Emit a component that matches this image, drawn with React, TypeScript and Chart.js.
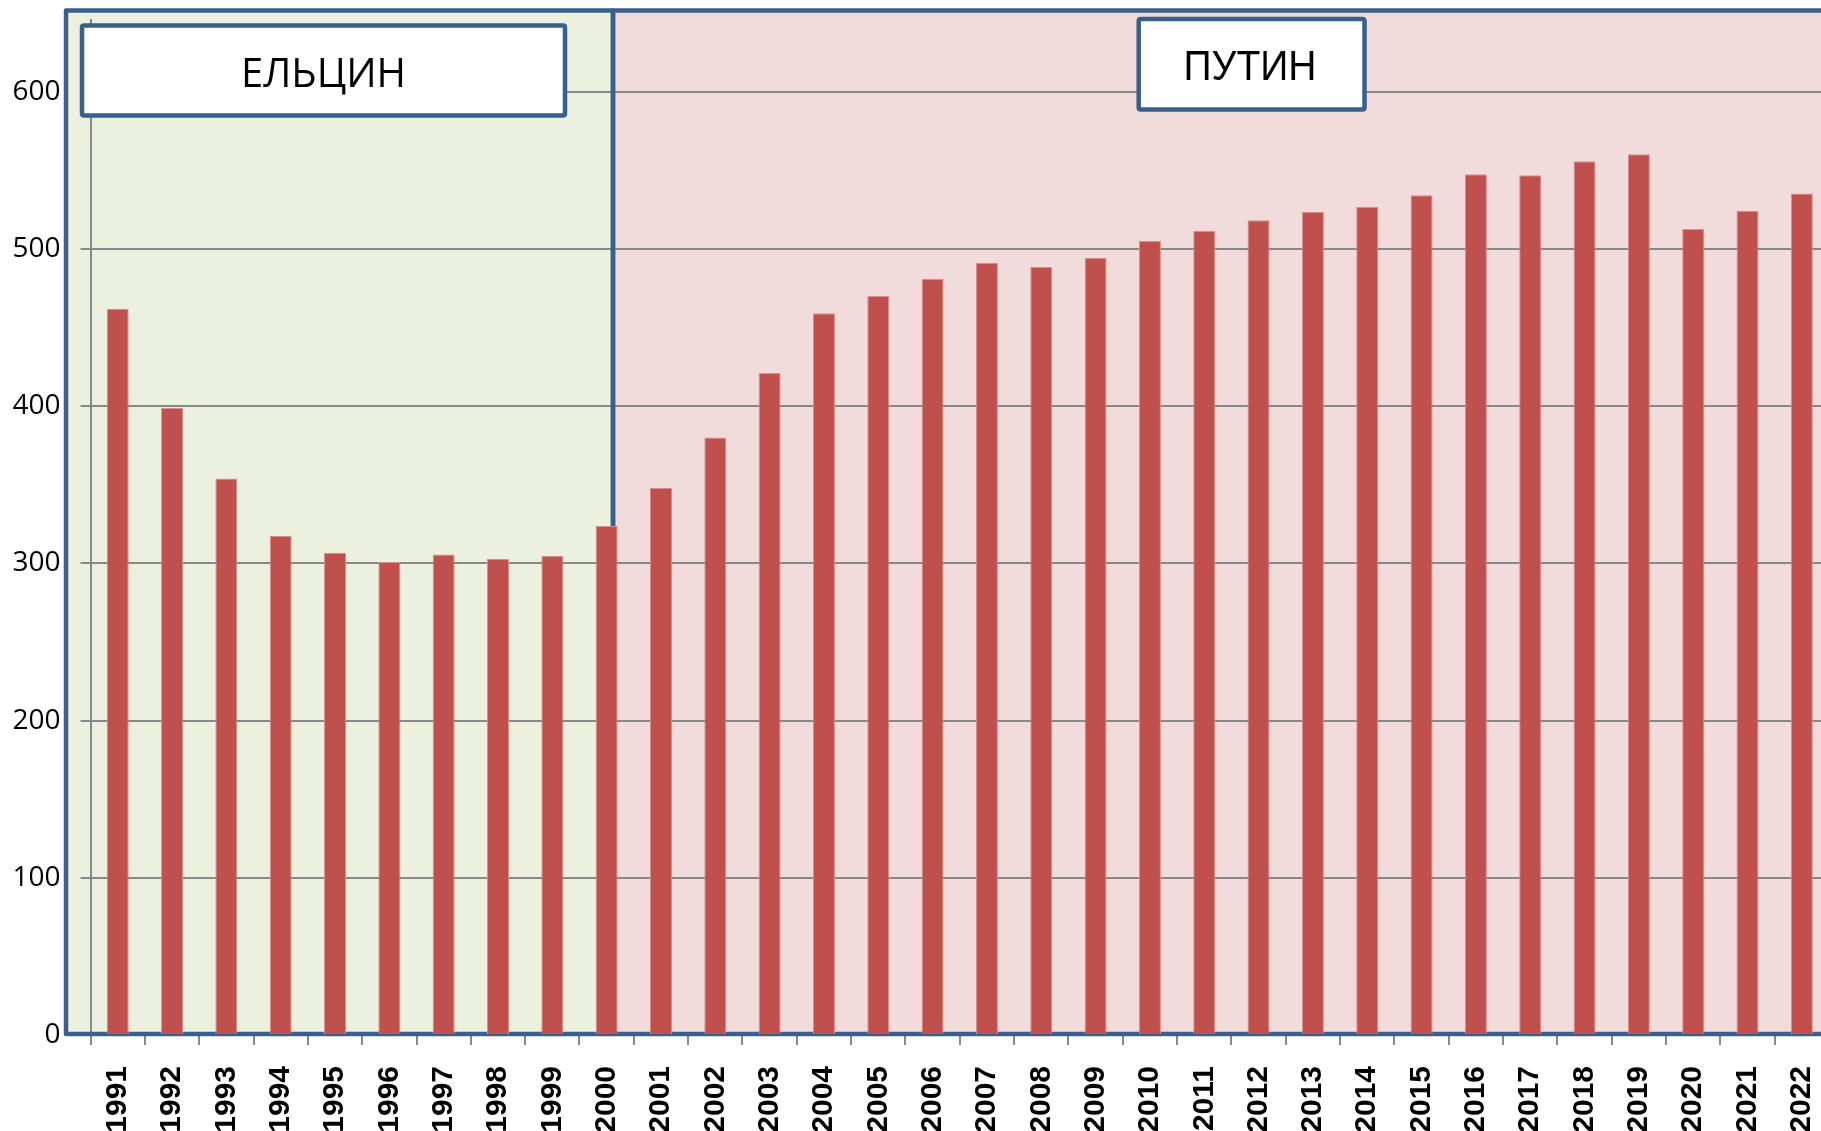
import React, { useEffect, useRef } from "react";
import { Chart, registerables } from "chart.js";

Chart.register(...registerables);

// ---- data ----
const years = [
  "1991", "1992", "1993", "1994", "1995", "1996", "1997", "1998", "1999", "2000",
  "2001", "2002", "2003", "2004", "2005", "2006", "2007", "2008", "2009", "2010",
  "2011", "2012", "2013", "2014", "2015", "2016", "2017", "2018", "2019", "2020",
  "2021", "2022",
];
const values = [
  462, 399, 354, 317.6, 306.8, 300.8, 305.7, 302.7, 304.9, 323.7,
  348, 380, 421, 459, 470, 481, 491, 488.5, 494.4, 505.1,
  511.5, 518.3, 523.5, 526.8, 534.2, 547.5, 546.9, 555.8, 560.2, 512.7,
  524.2, 535.2,
];
const yTicks = [0, 100, 200, 300, 400, 500, 600];
const eraLabels = ["ЕЛЬЦИН", "ПУТИН"];

// ---- layout / style (not data) ----
const W = 1829;
const H = 1131;
const BLUE = "#3A5F8C";
const GREEN = "#EBF1DE";
const PINK = "#F2DCDB";
const BAR = "#C0504D";
const GRID = "#888888";
const FRAME = { left: 66, top: 10.5, divider: 613, bottom: 1034, lw: 4.5 };

function zeroPadding(scale: any) {
  scale.paddingTop = 0;
  scale.paddingBottom = 0;
  scale.paddingLeft = 0;
  scale.paddingRight = 0;
}

function hasFont(name: string): boolean {
  const c = document.createElement("canvas").getContext("2d");
  if (!c) return false;
  c.font = "bold 100px monospace";
  const a = c.measureText("1991 ПУТИН").width;
  c.font = `bold 100px "${name}", monospace`;
  const b = c.measureText("1991 ПУТИН").width;
  return Math.abs(a - b) > 1;
}

const eraPlugin = {
  id: "eras",
  beforeDraw(chart: any) {
    const ctx = chart.ctx;
    ctx.save();
    ctx.fillStyle = GREEN;
    ctx.fillRect(FRAME.left, FRAME.top, FRAME.divider - FRAME.left, FRAME.bottom - FRAME.top);
    ctx.fillStyle = PINK;
    ctx.fillRect(FRAME.divider, FRAME.top, W + 20 - FRAME.divider, FRAME.bottom - FRAME.top);
    ctx.restore();
  },
  beforeDatasetsDraw(chart: any) {
    const ctx = chart.ctx;
    ctx.save();
    ctx.strokeStyle = BLUE;
    ctx.lineWidth = FRAME.lw;
    ctx.lineJoin = "round";
    ctx.strokeRect(FRAME.left, FRAME.top, FRAME.divider - FRAME.left, FRAME.bottom - FRAME.top);
    ctx.strokeRect(FRAME.divider, FRAME.top, W + 20 - FRAME.divider, FRAME.bottom - FRAME.top);
    ctx.restore();
  },
  afterDraw(chart: any) {
    const ctx = chart.ctx;
    const boxes = [
      { x1: 82, y1: 25.5, x2: 565, y2: 115.5, text: eraLabels[0], font: '41px "Open Sans"', cx: 323.5, base: 86.7, tw: 165 },
      { x1: 1138.7, y1: 19, x2: 1364.5, y2: 109.5, text: eraLabels[1], font: '42px "Liberation Sans"', cx: 1250, base: 80, tw: 133 },
    ];
    ctx.save();
    for (const b of boxes) {
      ctx.beginPath();
      const r = 2;
      const w = b.x2 - b.x1;
      const h = b.y2 - b.y1;
      ctx.moveTo(b.x1 + r, b.y1);
      ctx.lineTo(b.x1 + w - r, b.y1);
      ctx.quadraticCurveTo(b.x1 + w, b.y1, b.x1 + w, b.y1 + r);
      ctx.lineTo(b.x1 + w, b.y1 + h - r);
      ctx.quadraticCurveTo(b.x1 + w, b.y1 + h, b.x1 + w - r, b.y1 + h);
      ctx.lineTo(b.x1 + r, b.y1 + h);
      ctx.quadraticCurveTo(b.x1, b.y1 + h, b.x1, b.y1 + h - r);
      ctx.lineTo(b.x1, b.y1 + r);
      ctx.quadraticCurveTo(b.x1, b.y1, b.x1 + r, b.y1);
      ctx.closePath();
      ctx.fillStyle = "#ffffff";
      ctx.fill();
      ctx.strokeStyle = BLUE;
      ctx.lineWidth = 4.5;
      ctx.stroke();

      ctx.font = b.font;
      ctx.fillStyle = "#000000";
      ctx.textAlign = "center";
      ctx.textBaseline = "alphabetic";
      const m = ctx.measureText(b.text).width;
      const sx = b.tw / m;
      ctx.save();
      ctx.translate(b.cx, b.base);
      ctx.scale(sx, 1);
      ctx.fillText(b.text, 0, 0);
      ctx.restore();
    }
    ctx.restore();
  },
};

export default function App() {
  const ref = useRef<HTMLCanvasElement | null>(null);

  useEffect(() => {
    if (!ref.current) return;
    const narrow = hasFont("Liberation Sans Narrow");
    const xFont = narrow
      ? { family: '"Liberation Sans Narrow", sans-serif', size: 32, weight: "bold" as const }
      : { family: '"Liberation Sans", Arial, sans-serif', size: 30, weight: "bold" as const };
    const chart = new Chart(ref.current, {
      type: "bar",
      data: {
        labels: years,
        datasets: [
          {
            data: values,
            backgroundColor: BAR,
            borderColor: "#D98E8C",
            borderWidth: 1,
            categoryPercentage: 1,
            barPercentage: 0.405,
          },
        ],
      },
      options: {
        responsive: false,
        animation: false,
        devicePixelRatio: 1,
        layout: { padding: { top: 20, left: 0, right: 0, bottom: 0 } },
        plugins: {
          legend: { display: false },
          tooltip: { enabled: false },
        },
        scales: {
          x: {
            offset: true,
            grid: {
              display: true,
              drawOnChartArea: false,
              drawTicks: true,
              tickLength: 10,
              color: GRID,
              lineWidth: 2,
              offset: true,
            },
            border: { display: true, color: "#8EA0B8", width: 1.5 },
            ticks: {
              autoSkip: false,
              minRotation: 90,
              maxRotation: 90,
              padding: 21,
              color: "#000000",
              font: xFont,
            },
            afterFit(scale: any) {
              scale.height = 96;
              zeroPadding(scale);
            },
          },
          y: {
            min: 0,
            max: 645.6,
            grid: {
              color: GRID,
              lineWidth: 2,
              drawTicks: true,
              tickLength: 10,
            },
            border: { display: true, color: GRID, width: 2 },
            ticks: {
              padding: 20,
              color: "#000000",
              font: { family: '"Open Sans", sans-serif', size: 28 },
            },
            afterBuildTicks(axis: any) {
              axis.ticks = yTicks.map((v) => ({ value: v }));
            },
            afterFit(scale: any) {
              scale.width = 90.55;
              zeroPadding(scale);
            },
          },
        },
      },
      plugins: [eraPlugin],
    });
    return () => chart.destroy();
  }, []);

  return (
    <div
      style={{
        position: "fixed",
        left: 0,
        top: 0,
        width: 1821,
        height: 1131,
        overflow: "hidden",
        background: "#ffffff",
      }}
    >
      <canvas ref={ref} width={W} height={H} style={{ display: "block" }} />
    </div>
  );
}
